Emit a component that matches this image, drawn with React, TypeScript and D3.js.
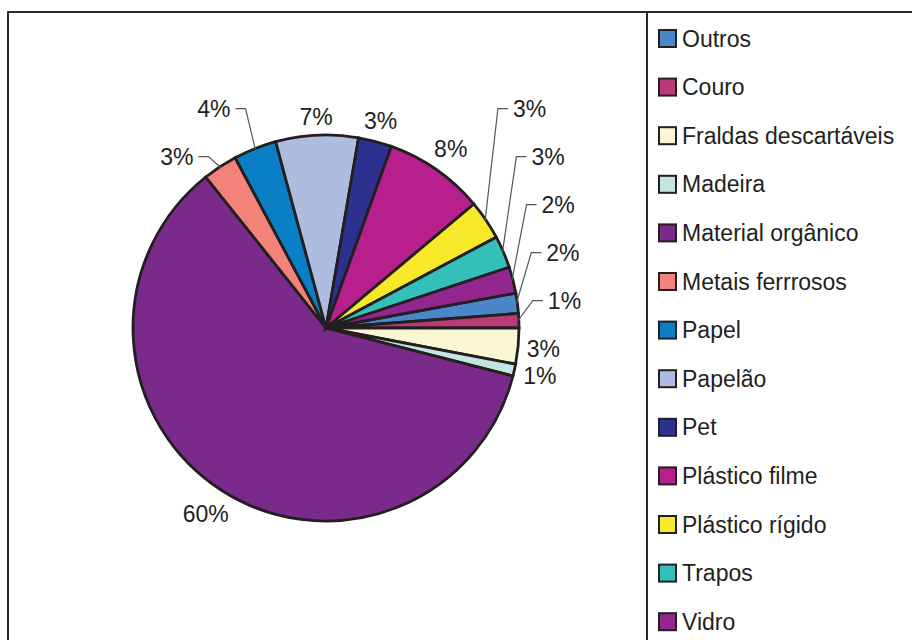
import React, { useEffect, useRef } from "react";
import * as d3 from "d3";

// composition values (percent), legend order = clockwise slice order
const categories = [
  "Outros",
  "Couro",
  "Fraldas descartáveis",
  "Madeira",
  "Material orgânico",
  "Metais ferrrosos",
  "Papel",
  "Papelão",
  "Pet",
  "Plástico filme",
  "Plástico rígido",
  "Trapos",
  "Vidro",
];
const values = [1.7, 1.2, 3.0, 1.0, 60.3, 2.9, 3.6, 6.9, 2.8, 8.4, 3.3, 2.7, 2.2];
const colors = [
  "#4a86c8",
  "#b83a76",
  "#fbf6d3",
  "#c4e6e2",
  "#792a8b",
  "#f3837a",
  "#0a7fc5",
  "#adbcdf",
  "#2c3190",
  "#b7208c",
  "#f8e82a",
  "#33c0b8",
  "#93268f",
];
// labels Excel moved away from the slice and tied back with a leader line
const leaderLabels = [
  "Outros",
  "Couro",
  "Metais ferrrosos",
  "Papel",
  "Plástico rígido",
  "Trapos",
  "Vidro",
];

function App() {
  const ref = useRef<SVGSVGElement>(null);
  const width = 912;
  const height = 640;
  const cx = 326;
  const cy = 328;
  const r = 193;
  const font = "'Liberation Sans', Arial, sans-serif";

  useEffect(() => {
    const svg = d3.select(ref.current);
    svg.selectAll("*").remove();

    // frames
    svg
      .append("rect")
      .attr("x", 8)
      .attr("y", 12)
      .attr("width", 1000)
      .attr("height", 800)
      .attr("fill", "#fff")
      .attr("stroke", "#2a2a2a")
      .attr("stroke-width", 2);
    svg
      .append("rect")
      .attr("x", 647)
      .attr("y", 12)
      .attr("width", 400)
      .attr("height", 800)
      .attr("fill", "none")
      .attr("stroke", "#2a2a2a")
      .attr("stroke-width", 2);

    const total = d3.sum(values);
    // first two slices sit just above 3 o'clock
    const a0 = Math.PI / 2 - ((values[0] + values[1]) / total) * 2 * Math.PI;

    const pie = d3
      .pie<number>()
      .sort(null)
      .value((d) => d)
      .startAngle(a0)
      .endAngle(a0 + 2 * Math.PI);
    const arcs = pie(values);
    const arc = d3.arc<d3.PieArcDatum<number>>().innerRadius(0).outerRadius(r);

    const g = svg.append("g").attr("transform", `translate(${cx},${cy})`);
    g.selectAll("path")
      .data(arcs)
      .join("path")
      .attr("d", arc)
      .attr("fill", (d, i) => colors[i])
      .attr("stroke", "#231f20")
      .attr("stroke-width", 2.8);

    // label layout
    const fs = 23;
    const charW = (s: string) =>
      d3.sum(s.split(""), (c) => (c === "%" ? 0.889 : 0.556)) * fs;
    const labels = arcs.map((d, i) => {
      const mid = (d.startAngle + d.endAngle) / 2;
      const s = Math.sin(mid);
      const c = Math.cos(mid);
      const text = `${Math.round(values[i])}%`;
      const w = charW(text);
      const leader = leaderLabels.includes(categories[i]);
      const R = r + 8 + Math.abs(s) * (w / 2) + Math.abs(c) * 9;
      return {
        i,
        text,
        s,
        c,
        leader,
        x: s * R,
        y: -c * R,
        natX: s * 205,
        natY: -c * 205,
      };
    });

    // stack the leader labels upwards on each side
    [1, -1].forEach((side) => {
      const group = labels
        .filter((l) => l.leader && Math.sign(l.s) === side)
        .sort((a, b) => b.natY - a.natY);
      if (!group.length) return;
      const below = labels
        .filter((l) => !l.leader && Math.sign(l.s) === side && l.y > group[0].natY)
        .map((l) => l.y);
      let prev = below.length ? d3.min(below)! : 1e9;
      group.forEach((l) => {
        l.y = Math.min(l.natY, prev - 48);
        prev = l.y;
      });
    });

    const lg = svg.append("g").attr("transform", `translate(${cx},${cy})`);
    labels.forEach((l) => {
      if (l.leader) {
        const side = l.s > 0 ? 1 : -1;
        const ex = l.natX + (side > 0 ? 2 : -5);
        lg.append("path")
          .attr(
            "d",
            `M${l.s * (r - 1)},${-l.c * (r - 1)}L${ex},${l.y}L${ex + side * 10},${l.y}`
          )
          .attr("fill", "none")
          .attr("stroke", "#555")
          .attr("stroke-width", 1.2);
        lg.append("text")
          .attr("x", ex + side * 15)
          .attr("y", l.y)
          .attr("text-anchor", side > 0 ? "start" : "end")
          .attr("dominant-baseline", "central")
          .attr("font-family", font)
          .attr("font-size", fs)
          .attr("fill", "#231f20")
          .text(l.text);
      } else {
        lg.append("text")
          .attr("x", l.x)
          .attr("y", l.y)
          .attr("text-anchor", "middle")
          .attr("dominant-baseline", "central")
          .attr("font-family", font)
          .attr("font-size", fs)
          .attr("fill", "#231f20")
          .text(l.text);
      }
    });

    // legend
    const ly = d3.scalePoint<string>().domain(categories).range([38.5, 621.7]);
    const leg = svg
      .append("g")
      .selectAll("g")
      .data(categories)
      .join("g")
      .attr("transform", (d) => `translate(659,${ly(d)})`);
    leg
      .append("rect")
      .attr("x", 0)
      .attr("y", -8.5)
      .attr("width", 17)
      .attr("height", 17)
      .attr("fill", (d, i) => colors[i])
      .attr("stroke", "#231f20")
      .attr("stroke-width", 2);
    leg
      .append("text")
      .attr("x", 23)
      .attr("y", 0)
      .attr("dominant-baseline", "central")
      .attr("font-family", font)
      .attr("font-size", fs)
      .attr("fill", "#231f20")
      .text((d) => d);
  }, []);

  return (
    <svg
      ref={ref}
      width={width}
      height={height}
      style={{ position: "absolute", left: 0, top: 0, background: "#fff" }}
    />
  );
}

export default App;
